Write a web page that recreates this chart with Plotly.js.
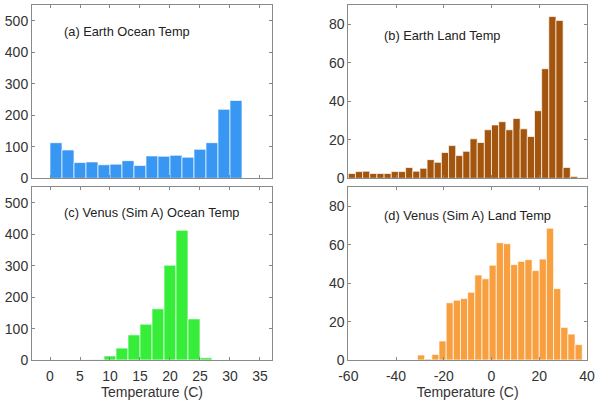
<!DOCTYPE html>
<html>
<head>
<meta charset="utf-8">
<script src="https://cdn.plot.ly/plotly-3.0.1.min.js"></script>
<style>html,body{margin:0;padding:0;background:#fff;}#chart{width:600px;height:408px;}</style>
</head>
<body>
<div id="chart"></div>
<script>
// (a) Earth ocean temperature: 2-degree bins
const earthOceanBins = [1, 3, 5, 7, 9, 11, 13, 15, 17, 19, 21, 23, 25, 27, 29, 31];
const earthOceanCounts = [113, 90, 50, 52, 43, 45, 56, 41, 71, 70, 73, 67, 92, 113, 219, 247];

// (b) Earth land temperature: 3-degree bins
const earthLandBins = [-58.5, -55.5, -52.5, -49.5, -46.5, -43.5, -40.5, -37.5, -34.5, -31.5, -28.5,
  -25.5, -22.5, -19.5, -16.5, -13.5, -10.5, -7.5, -4.5, -1.5, 1.5, 4.5, 7.5, 10.5, 13.5, 16.5,
  19.5, 22.5, 25.5, 28.5, 31.5, 34.5, 37.5];
const earthLandCounts = [2.5, 3.5, 3.7, 2.5, 2.5, 2.5, 3.5, 3.5, 5.6, 3.7, 5.2,
  9.7, 8.3, 13.4, 17, 11.8, 14, 20.5, 18.6, 25.2, 27.7, 29.4, 25.2, 31.1, 25.7, 21.7,
  35.1, 56.9, 84, 82, 5.6, 0.9, 0.3];

// (c) Venus (Sim A) ocean temperature: 2-degree bins
const venusOceanBins = [6, 8, 10, 12, 14, 16, 18, 20, 22, 24, 26];
const venusOceanCounts = [0.5, 1.5, 13, 38, 80, 114, 163, 302, 413, 131, 7];

// (d) Venus (Sim A) land temperature: 3-degree bins
const venusLandBins = [-29.5, -26.5, -23.5, -20.5, -17.5, -14.5, -11.5, -8.5, -5.5, -2.5, 0.5,
  3.5, 6.5, 9.5, 12.5, 15.5, 18.5, 21.5, 24.5, 27.5, 30.5, 33.5, 36.5];
const venusLandCounts = [2.6, 0.5, 2.9, 9.9, 29.8, 31.2, 32, 35.3, 44.3, 42.3, 49.4,
  61.1, 60.6, 49.7, 51.4, 52.3, 46.6, 52.6, 68.7, 37.2, 17, 13.5, 8];

const panelLabels = ['(a) Earth Ocean Temp', '(b) Earth Land Temp',
  '(c) Venus (Sim A) Ocean Temp', '(d) Venus (Sim A) Land Temp'];
const oceanTicks = [0, 5, 10, 15, 20, 25, 30, 35];
const oceanTickText = ['0', '5', '10', '15', '20', '25', '30', '35'];
const landTicks = [-60, -40, -20, 0, 20, 40];
const landTickText = ['-60', '-40', '-20', '0', '20', '40'];
const oceanCountTicks = [0, 100, 200, 300, 400, 500];
const landCountTicks = [0, 20, 40, 60, 80];
const xTitle = 'Temperature (C)';

const font = {family: 'Liberation Sans, Arial, sans-serif', size: 14, color: '#333'};
const edge = {color: 'rgba(255,255,255,0.85)', width: 0.8};

function bar(x, y, w, color, xa, ya) {
  return {type: 'bar', x: x, y: y, width: w, xaxis: xa, yaxis: ya,
    marker: {color: color, line: edge}, hoverinfo: 'x+y', showlegend: false};
}

const traces = [
  bar(earthOceanBins, earthOceanCounts, 2, '#3897f2', 'x', 'y'),
  bar(earthLandBins, earthLandCounts, 3, '#a4550d', 'x2', 'y2'),
  bar(venusOceanBins, venusOceanCounts, 2, '#36ee3a', 'x3', 'y3'),
  bar(venusLandBins, venusLandCounts, 3, '#f8a040', 'x4', 'y4')
];

function xax(domain, range, ticks, labels, showLabels, anchor) {
  return {domain: domain, range: range, tickvals: ticks, ticktext: labels, showticklabels: showLabels,
    ticks: 'inside', ticklen: 3, tickcolor: '#888', showline: true, linecolor: '#8a8a8a',
    linewidth: 1, mirror: 'ticks', showgrid: false, zeroline: false, anchor: anchor,
    tickfont: font, fixedrange: true, ticklabelstandoff: 3,
    title: showLabels ? {text: xTitle, font: font, standoff: 4} : {text: ''}};
}
function yax(domain, range, ticks, anchor) {
  return {domain: domain, range: range, tickvals: ticks, ticks: 'inside', ticklen: 3,
    tickcolor: '#888', showline: true, linecolor: '#8a8a8a', linewidth: 1, mirror: 'ticks',
    showgrid: false, zeroline: false, anchor: anchor, tickfont: font, fixedrange: true};
}

const dL = [0, 0.4324], dR = [0.5699, 1.0];
const dT = [0.5118, 1.0], dB = [0, 0.4865];

const annFont = {family: 'Liberation Sans, Arial, sans-serif', size: 12.8, color: '#222'};
const layout = {
  width: 600, height: 408,
  margin: {l: 32, r: 13, t: 5, b: 48},
  paper_bgcolor: '#fff', plot_bgcolor: '#fff',
  bargap: 0,
  xaxis: xax(dL, [-3, 37], oceanTicks, oceanTickText, false, 'y'),
  yaxis: yax(dT, [0, 550], oceanCountTicks, 'x'),
  xaxis2: xax(dR, [-60, 40], landTicks, landTickText, false, 'y2'),
  yaxis2: yax(dT, [0, 90], landCountTicks, 'x2'),
  xaxis3: xax(dL, [-3, 37], oceanTicks, oceanTickText, true, 'y3'),
  yaxis3: yax(dB, [0, 550], oceanCountTicks, 'x3'),
  xaxis4: xax(dR, [-60, 40], landTicks, landTickText, true, 'y4'),
  yaxis4: yax(dB, [0, 90], landCountTicks, 'x4'),
  annotations: [
    {text: panelLabels[0], xref: 'x domain', yref: 'y domain', x: 0.123, y: 0.845, xanchor: 'left', yanchor: 'middle', showarrow: false, font: annFont},
    {text: panelLabels[1], xref: 'x2 domain', yref: 'y2 domain', x: 0.143, y: 0.825, xanchor: 'left', yanchor: 'middle', showarrow: false, font: annFont},
    {text: panelLabels[2], xref: 'x3 domain', yref: 'y3 domain', x: 0.123, y: 0.855, xanchor: 'left', yanchor: 'middle', showarrow: false, font: annFont},
    {text: panelLabels[3], xref: 'x4 domain', yref: 'y4 domain', x: 0.143, y: 0.835, xanchor: 'left', yanchor: 'middle', showarrow: false, font: annFont}
  ]
};

Plotly.newPlot('chart', traces, layout, {displayModeBar: false, staticPlot: true});
</script>
</body>
</html>
